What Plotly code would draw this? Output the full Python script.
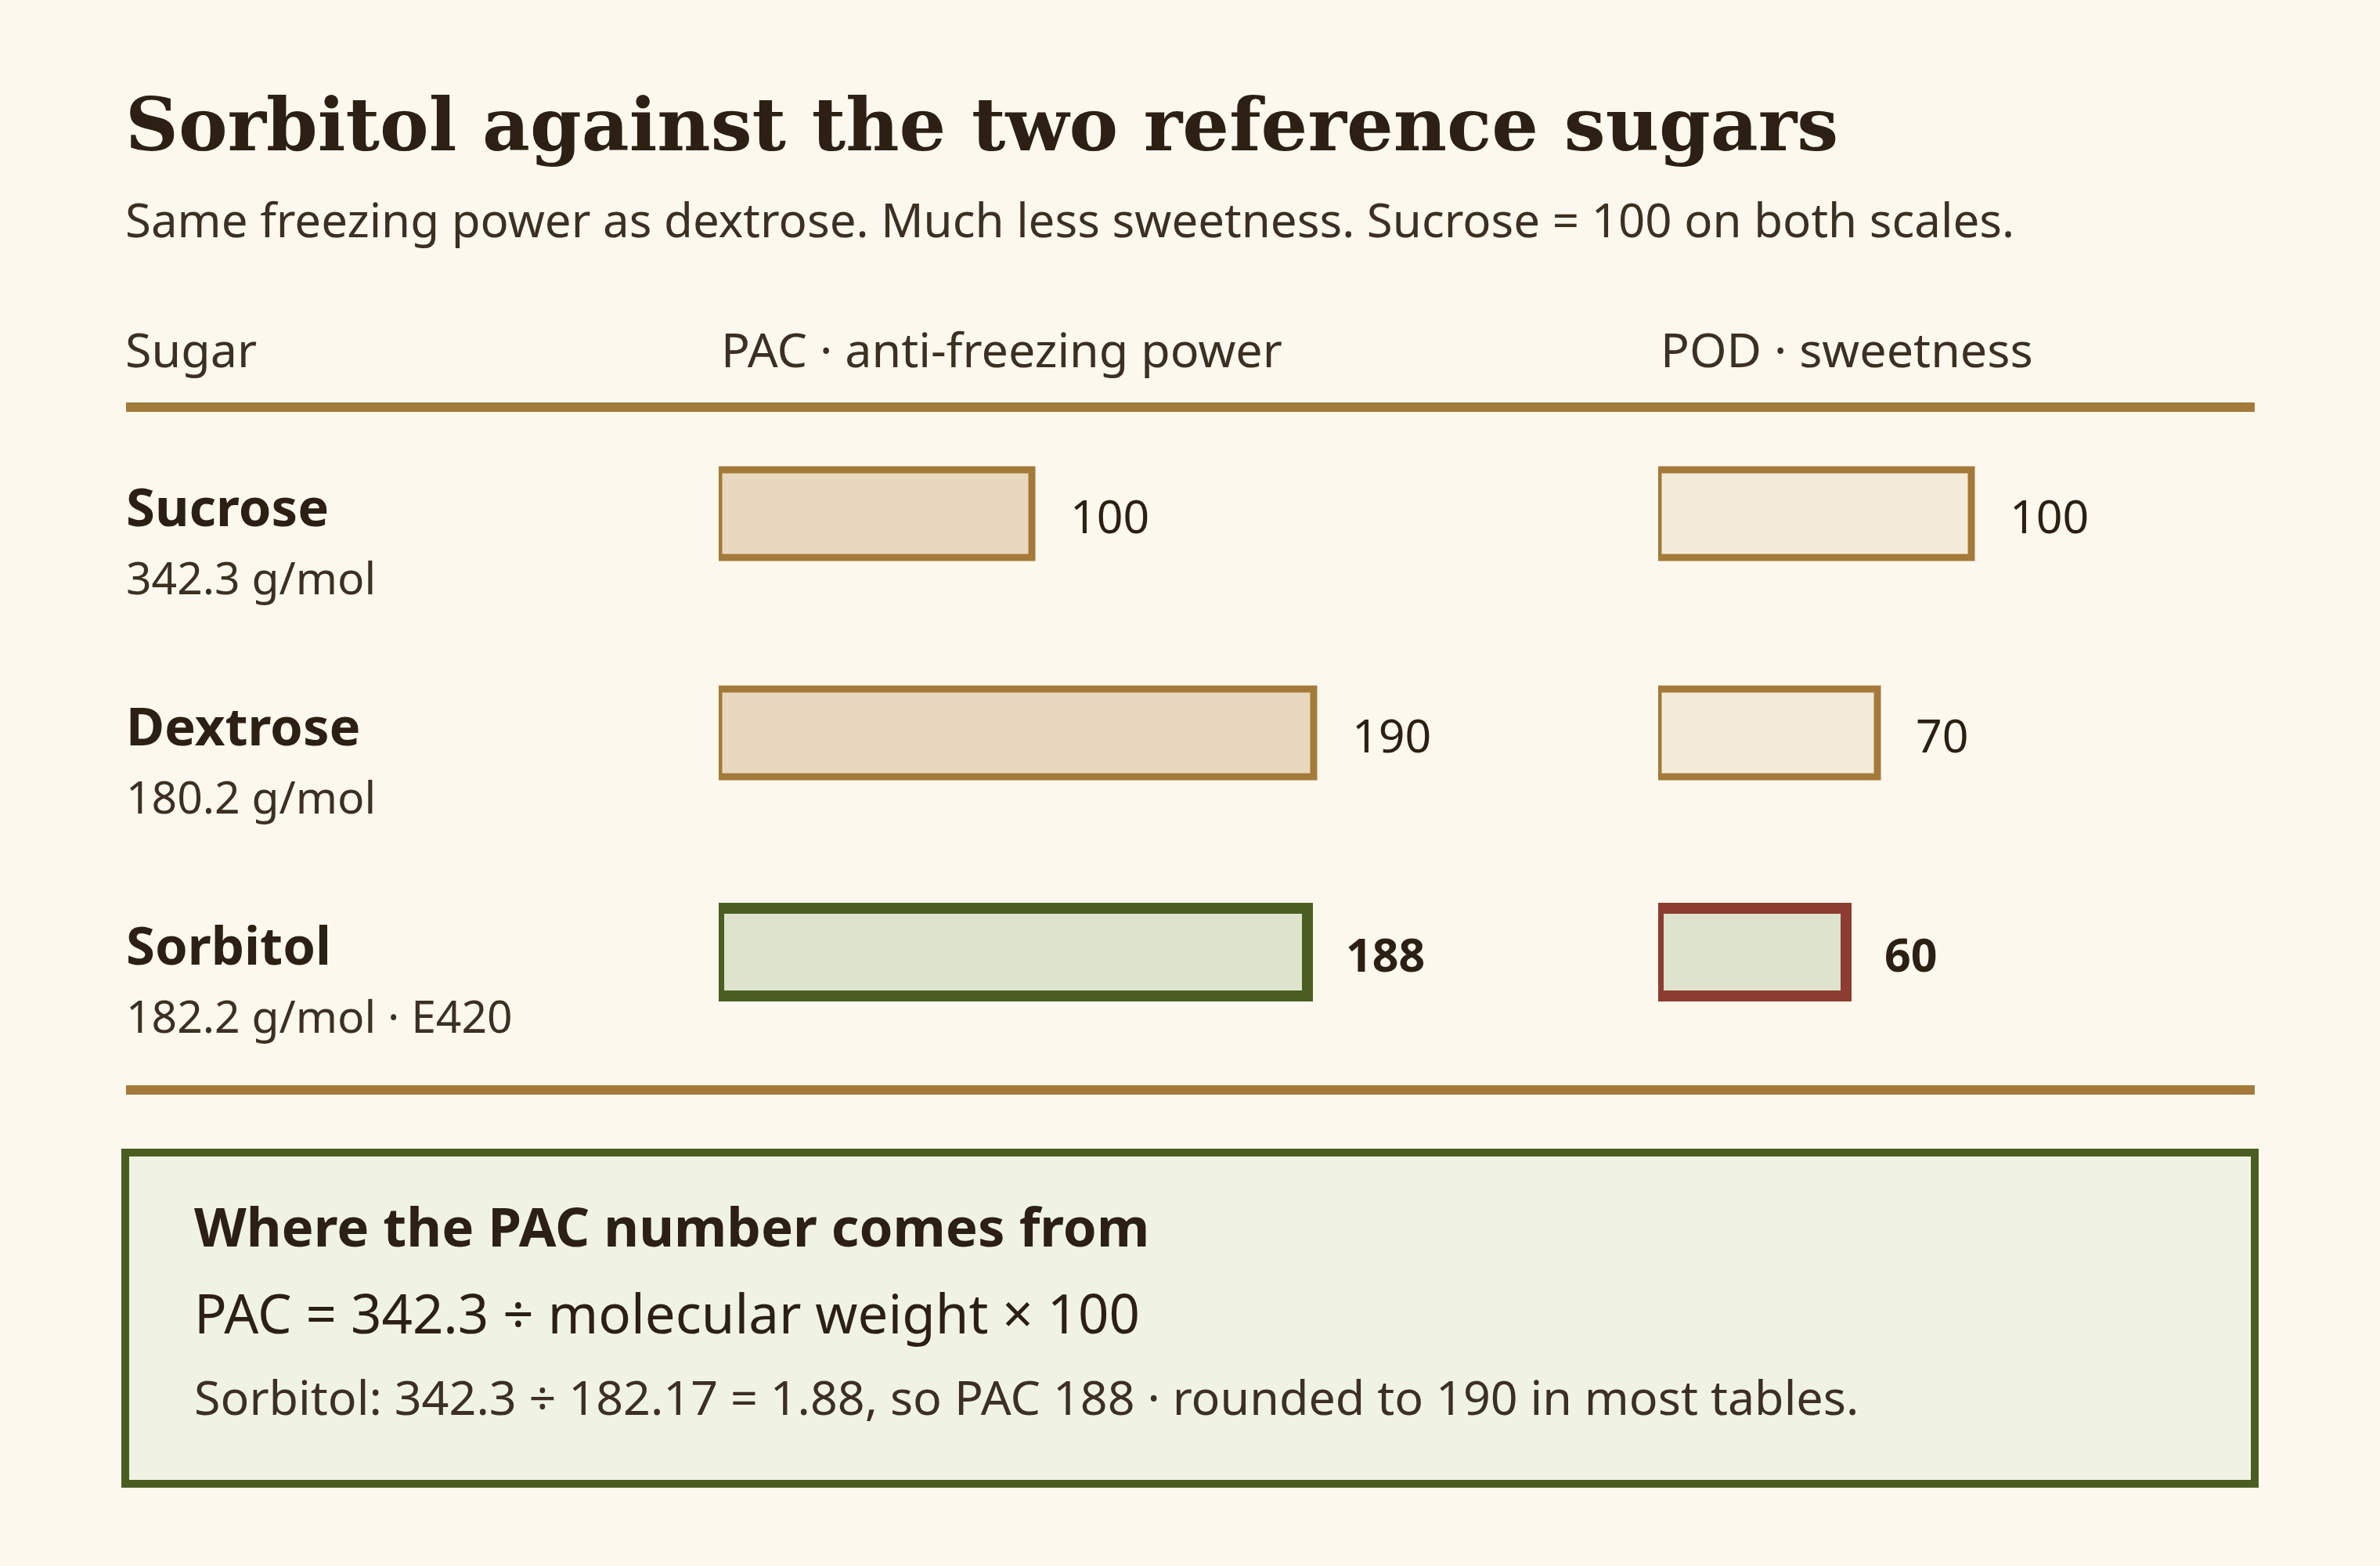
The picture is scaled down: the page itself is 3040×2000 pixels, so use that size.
import plotly.graph_objects as go

# data
sugars = ["Sucrose", "Dextrose", "Sorbitol"]
molar_notes = ["342.3 g/mol", "180.2 g/mol", "182.2 g/mol · E420"]
pac = [100, 190, 188]
pod = [100, 70, 60]

W, H = 3040, 2000
BG = "#fcf8ee"
INK = "#2c2014"
INK2 = "#3b3023"
BROWN = "#a37a3a"
GREEN = "#4a5e22"
RED = "#8c3c30"
SANS = "Noto Sans"
SERIF = "DejaVu Serif"


def px(x):
    return x / W


def py(y):
    return 1 - y / H


pac_fill = ["#e8d8bf", "#e8d8bf", "#dde3cc"]
pac_line = [BROWN, BROWN, GREEN]
pod_fill = ["#f4ecd8", "#f4ecd8", "#dde3cc"]
pod_line = [BROWN, BROWN, RED]
line_w = [9, 9, 14]

data = [
    go.Bar(x=pac, y=sugars, orientation="h", xaxis="x", yaxis="y", width=0.4,
           marker=dict(color=pac_fill, line=dict(color=pac_line, width=line_w)),
           hoverinfo="skip"),
    go.Bar(x=pod, y=sugars, orientation="h", xaxis="x2", yaxis="y", width=0.4,
           marker=dict(color=pod_fill, line=dict(color=pod_line, width=line_w)),
           hoverinfo="skip"),
]

ann = []


def txt(text, x, y, size, color=INK2, family=SANS, bold=False, **kw):
    if bold:
        text = "<b>" + text + "</b>"
    d = dict(text=text, x=x, y=y, showarrow=False, xanchor="left", yanchor="middle",
             font=dict(family=family, size=size, color=color))
    d.update(kw)
    ann.append(d)


# title block
txt("Sorbitol against the two reference sugars", px(158), py(159), 94, color=INK,
    family=SERIF, bold=True, xref="paper", yref="paper")
txt("Same freezing power as dextrose. Much less sweetness. Sucrose = 100 on both scales.",
    px(158), py(280), 60, xref="paper", yref="paper")

# column heads
for label, x0 in [("Sugar", 158), ("PAC · anti-freezing power", 919), ("POD · sweetness", 2119)]:
    txt(label, px(x0), py(446), 61, xref="paper", yref="paper")

# row labels and values
for i, name in enumerate(sugars):
    txt(name, px(159), name, 67, color=INK, bold=True, xref="paper", yref="y", yshift=10)
    txt(molar_notes[i], px(159), name, 57, xref="paper", yref="y", yshift=-81)
    strong = name == "Sorbitol"
    txt(str(pac[i]), pac[i], name, 59, color=INK, bold=strong, xref="x", yref="y",
        xshift=47, yshift=-2)
    txt(str(pod[i]), pod[i], name, 59, color=INK, bold=strong, xref="x2", yref="y",
        xshift=47, yshift=-2)

# note box text
txt("Where the PAC number comes from", px(246), py(1565), 69, color=INK, bold=True,
    xref="paper", yref="paper")
txt("PAC = 342.3 ÷ molecular weight × 100", px(246), py(1676), 69, color=INK,
    xref="paper", yref="paper")
txt("Sorbitol: 342.3 ÷ 182.17 = 1.88, so PAC 188 · rounded to 190 in most tables.",
    px(246), py(1783), 61, xref="paper", yref="paper")

shapes = [
    dict(type="line", xref="paper", yref="paper", x0=px(161), x1=px(2880), y0=py(520), y1=py(520),
         line=dict(color=BROWN, width=12)),
    dict(type="line", xref="paper", yref="paper", x0=px(161), x1=px(2880), y0=py(1392), y1=py(1392),
         line=dict(color=BROWN, width=12)),
    dict(type="rect", xref="paper", yref="paper", x0=px(160), x1=px(2880), y0=py(1472), y1=py(1895),
         fillcolor="#f0f3e4", line=dict(color=GREEN, width=10), layer="below"),
]

hidden = dict(visible=False, showgrid=False, zeroline=False, fixedrange=True)

layout = go.Layout(
    width=W, height=H,
    margin=dict(l=0, r=0, t=0, b=0),
    paper_bgcolor=BG, plot_bgcolor=BG,
    showlegend=False,
    xaxis=dict(domain=[px(918), px(1878)], range=[0, 240], anchor="y", **hidden),
    xaxis2=dict(domain=[px(2118), px(2838)], range=[0, 180], anchor="y", **hidden),
    yaxis=dict(domain=[py(1356), py(516)], type="category", categoryorder="array",
               categoryarray=sugars, range=[2.5, -0.5], anchor="x", **hidden),
    annotations=ann,
    shapes=shapes,
)

fig = go.Figure(data=data, layout=layout)
# drop the page margin so the figure sits flush in the window
fig.write_html("out.html", config={"displayModeBar": False},
               post_script="document.body.style.margin='0';document.body.style.background='#fcf8ee';")
